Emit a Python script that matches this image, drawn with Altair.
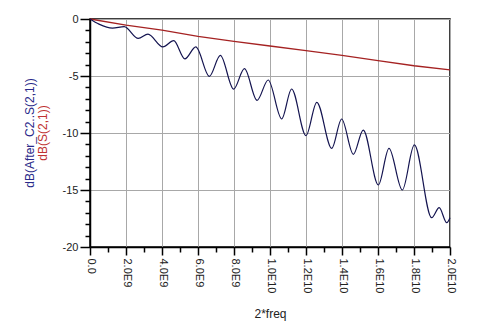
import altair as alt
import pandas as pd

# frequency in units of 1E9 (axis "2*freq"), values in dB
blue_f = [0, 0.5, 1.25, 1.9, 2.68, 3.22, 4.05, 4.65, 5.27, 5.88, 6.63, 7.24, 7.98, 8.58,
          9.28, 9.9, 10.65, 11.2, 12.0, 12.6, 13.43, 13.98, 14.63, 15.18, 16.02, 16.61,
          17.35, 18.02, 18.98, 19.4, 19.82, 20.0]
blue_db = [0, -0.45, -0.8, -0.67, -1.7, -1.33, -2.45, -1.9, -3.5, -2.45, -5.03, -3.19,
           -6.15, -4.36, -7.13, -5.35, -8.77, -6.14, -10.23, -7.31, -11.35, -8.77, -11.87,
           -9.74, -14.56, -11.35, -15.0, -11.05, -17.43, -16.55, -17.87, -17.43]

red_f = [0, 2, 4, 6, 8, 10, 12, 14, 16, 18, 20]
red_db = [0, -0.53, -0.98, -1.52, -1.96, -2.37, -2.78, -3.2, -3.65, -4.1, -4.47]

x_ticks = list(range(0, 21))
y_ticks = list(range(-20, 1))

blue_title = "dB(After_C2..S(2,1))"
red_title = "dB(S(2,1))"
x_title = "2*freq"

df_blue = pd.DataFrame({"f": blue_f, "db": blue_db})
df_red = pd.DataFrame({"f": red_f, "db": red_db})

FONT = "Liberation Sans"

x_scale = alt.Scale(domain=[0, 20], nice=False, zero=False)
y_scale = alt.Scale(domain=[-20, 0], nice=False, zero=False)

x_axis = alt.Axis(
    values=x_ticks,
    tickCount=len(x_ticks),
    labelOverlap=False,
    labelExpr="datum.value % 2 != 0 ? '' : (datum.value == 0 ? '0.0' : (datum.value < 10 ? format(datum.value, '.1f') + 'E9' : format(datum.value / 10, '.1f') + 'E10'))",
    labelAngle=90,
    labelAlign="left",
    labelBaseline="middle",
    labelPadding=3,
    labelFont=FONT,
    labelFontSize=11,
    labelColor="#222222",
    tickSize={"condition": {"test": "datum.value % 2 == 0", "value": 8}, "value": 5},
    tickColor="#000000",
    tickWidth=1.5,
    domainColor="#000000",
    domainWidth=1.5,
    grid=True,
    gridColor="#a8a8a8",
    gridWidth=1,
    gridOpacity={"condition": {"test": "datum.value % 2 == 0", "value": 1}, "value": 0},
    title=x_title,
    titleFont=FONT,
    titleFontSize=12,
    titleFontWeight="normal",
    titleColor="#222222",
    titlePadding=16,
)

y_axis = alt.Axis(
    values=y_ticks,
    tickCount=len(y_ticks),
    labelOverlap=False,
    labelExpr="datum.value % 5 == 0 ? '' + datum.value : ''",
    labelPadding=2,
    labelFont=FONT,
    labelFontSize=11,
    labelColor="#222222",
    tickSize={"condition": {"test": "datum.value % 5 == 0", "value": 10}, "value": 5},
    tickColor="#000000",
    tickWidth=1.5,
    domainColor="#000000",
    domainWidth=1.5,
    grid=True,
    gridColor="#a8a8a8",
    gridWidth=1,
    gridOpacity={"condition": {"test": "datum.value % 5 == 0", "value": 1}, "value": 0},
    title=None,
)

red_line = alt.Chart(df_red).mark_line(color="#a52222", strokeWidth=1.3).encode(
    x=alt.X("f:Q", scale=x_scale, axis=x_axis),
    y=alt.Y("db:Q", scale=y_scale, axis=y_axis),
)

blue_line = alt.Chart(df_blue).mark_line(
    color="#141450", strokeWidth=1.2, interpolate="monotone"
).encode(
    x=alt.X("f:Q", scale=x_scale),
    y=alt.Y("db:Q", scale=y_scale),
)

blue_t = alt.Chart(pd.DataFrame({"t": [blue_title]})).mark_text(
    angle=270, font=FONT, fontSize=12, color="#2a2a8a", align="center", baseline="middle"
).encode(text="t:N", x=alt.value(-60), y=alt.value(114))
red_t = alt.Chart(pd.DataFrame({"t": [red_title]})).mark_text(
    angle=270, font=FONT, fontSize=12, color="#c03333", align="center", baseline="middle"
).encode(text="t:N", x=alt.value(-47), y=alt.value(114))

chart = alt.layer(red_line, blue_line, blue_t, red_t).properties(
    width=360,
    height=228,
    autosize=alt.AutoSizeParams(type="none"),
    padding={"left": 82, "top": 11, "right": 31, "bottom": 74},
    background="white",
).configure_view(stroke="#000000", strokeWidth=1.5)

chart.save("out.html", embed_options={"renderer": "svg", "actions": False})
